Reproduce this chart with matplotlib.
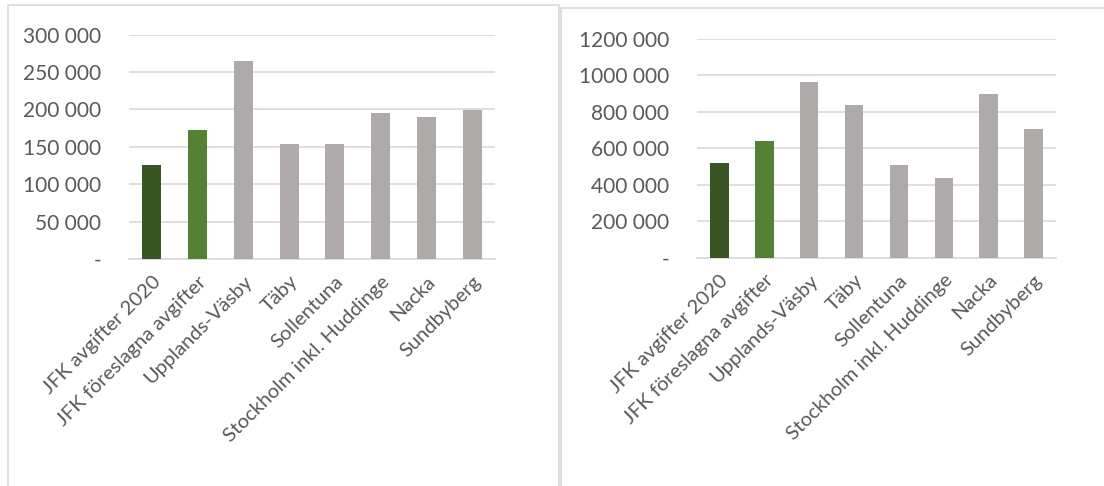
"""Avgiftsjämförelse JFK mot andra kommuner, två stapeldiagram."""

import matplotlib
matplotlib.use('Agg')
import matplotlib.pyplot as plt
from matplotlib.patches import Rectangle
from matplotlib.ticker import FuncFormatter, MultipleLocator

DARK_GREEN = '#375623'
GREEN = '#548235'
GRAY = '#AEAAAA'
TEXT_COLOR = '#595959'
GRID_COLOR = '#D9D9D9'

categories = ['JFK avgifter 2020', 'JFK föreslagna avgifter', 'Upplands-Väsby',
              'Täby', 'Sollentuna', 'Stockholm inkl. Huddinge', 'Nacka',
              'Sundbyberg']
left_values = [126000, 172500, 265000, 154000, 154000, 195500, 190000, 199500]
right_values = [519000, 639000, 962000, 836000, 508000, 437000, 897000, 705000]
bar_colors = [DARK_GREEN, GREEN] + [GRAY] * 6

plt.rcParams['font.family'] = ['Lato', 'DejaVu Sans']


def fmt(v, pos):
    if v == 0:
        return '-'
    return f"{int(round(v / 1000))} 000"


def draw(ax, values, ymax, step):
    x = range(len(categories))
    ax.bar(x, values, width=0.41, color=bar_colors, zorder=3)
    ax.set_xlim(-0.5, len(categories) - 0.5)
    ax.set_ylim(0, ymax)
    ax.yaxis.set_major_locator(MultipleLocator(step))
    ax.yaxis.set_major_formatter(FuncFormatter(fmt))
    ax.grid(axis='y', color=GRID_COLOR, linewidth=1.2, zorder=0)
    ax.set_axisbelow(True)
    for name in ['top', 'right', 'left']:
        ax.spines[name].set_visible(False)
    ax.spines['bottom'].set_color(GRID_COLOR)
    ax.spines['bottom'].set_linewidth(1.2)
    ax.tick_params(axis='both', length=0, colors=TEXT_COLOR, labelsize=15)
    ax.tick_params(axis='y', pad=20)
    ax.set_xticks(list(x))
    ax.set_xticklabels(categories, rotation=45, ha='right',
                       rotation_mode='anchor', fontsize=14.5)
    ax.tick_params(axis='x', pad=10)


def main():
    fig = plt.figure(figsize=(11.04, 4.86), dpi=100, facecolor='white')
    W, H = 1104, 486

    # panel borders
    fig.patches.append(Rectangle((8 / W, -0.05), (559 - 8) / W, 1.05 - 5 / H,
                                 transform=fig.transFigure, fill=False,
                                 edgecolor=GRID_COLOR, linewidth=1.2))
    fig.patches.append(Rectangle((561 / W, -0.05), (1110 - 561) / W, 1.05 - 8 / H,
                                 transform=fig.transFigure, fill=False,
                                 edgecolor=GRID_COLOR, linewidth=1.2))

    ax1 = fig.add_axes([129 / W, 1 - 259 / H, 366 / W, (259 - 34.7) / H])
    draw(ax1, left_values, 300000, 50000)

    ax2 = fig.add_axes([697 / W, 1 - 257.7 / H, 359 / W, (257.7 - 38.7) / H])
    draw(ax2, right_values, 1200000, 200000)

    fig.savefig('out.png', dpi=100, facecolor='white')
    plt.close(fig)


if __name__ == "__main__":
    main()
